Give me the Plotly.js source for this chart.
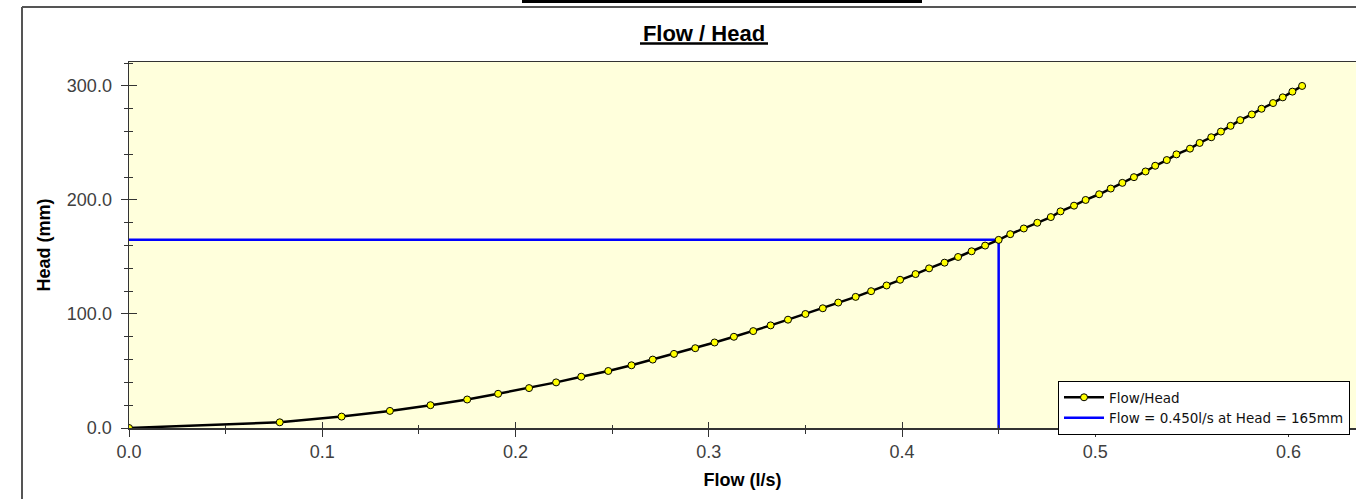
<!DOCTYPE html>
<html><head><meta charset="utf-8">
<script src="https://cdn.plot.ly/plotly-3.0.1.min.js"></script>
<style>html,body{margin:0;padding:0;background:#fff;overflow:hidden}#chart{width:1356px;height:499px}</style>
</head><body><div id="chart"></div>
<script>
// Flow / Head curve
const heads = [0, 5, 10, 15, 20, 25, 30, 35, 40, 45, 50, 55, 60, 65, 70, 75, 80, 85, 90, 95,
  100, 105, 110, 115, 120, 125, 130, 135, 140, 145, 150, 155, 160, 165, 170, 175, 180, 185, 190, 195,
  200, 205, 210, 215, 220, 225, 230, 235, 240, 245, 250, 255, 260, 265, 270, 275, 280, 285, 290, 295, 300];
const flows = [0.000, 0.078, 0.110, 0.135, 0.156, 0.175, 0.191, 0.207, 0.221, 0.234, 0.248, 0.260, 0.271, 0.282, 0.293, 0.303, 0.313, 0.323, 0.332, 0.341,
  0.350, 0.359, 0.367, 0.376, 0.384, 0.392, 0.399, 0.407, 0.414, 0.422, 0.429, 0.436, 0.443, 0.450, 0.456, 0.463, 0.470, 0.477, 0.482, 0.489,
  0.495, 0.502, 0.508, 0.514, 0.520, 0.526, 0.531, 0.537, 0.542, 0.549, 0.554, 0.560, 0.565, 0.570, 0.575, 0.581, 0.586, 0.592, 0.597, 0.602, 0.607];

// Operating point marker lines
const opFlow = [0, 0.45, 0.45];
const opHead = [165, 165, 0];

const curveName = "Flow/Head";
const opName = "Flow = 0.450l/s at Head = 165mm";

const xTickVals = [0, 0.1, 0.2, 0.3, 0.4, 0.5, 0.6];
const xTickText = ["0.0", "0.1", "0.2", "0.3", "0.4", "0.5", "0.6"];
const yTickVals = [0, 100, 200, 300];
const yTickText = ["0.0", "100.0", "200.0", "300.0"];

const chartTitle = "Flow / Head";
const xTitle = "Flow (l/s)";
const yTitle = "Head (mm)";

const xRange = [0, 0.6349];
const yRange = [0, 321];

const FONT = "'Liberation Sans', Arial, sans-serif";
const LEGFONT = "'DejaVu Sans', 'Liberation Sans', sans-serif";
const axisCol = "#333333";

const traces = [
  {x: opFlow, y: opHead, type: "scatter", mode: "lines", name: opName,
   line: {color: "#0000ff", width: 2.5}},
  {x: flows, y: heads, type: "scatter", mode: "lines+markers", name: curveName,
   line: {color: "#000000", width: 2.5},
   marker: {color: "#ffff00", size: 7, line: {color: "#000000", width: 1}}},
  // empty trace so the overlaid (inside-tick) axes are drawn
  {x: [], y: [], xaxis: "x2", yaxis: "y2", type: "scatter", mode: "lines", showlegend: false, hoverinfo: "skip"}
];

function px2x(p){ return (p - 129) / 1227; }
function px2y(p){ return (428 - p) / 366; }

const layout = {
  width: 1356, height: 499,
  margin: {l: 129, r: 0, t: 62, b: 71, pad: 0},
  paper_bgcolor: "#ffffff",
  plot_bgcolor: "#ffffdc",
  font: {family: FONT, color: "#000"},
  showlegend: true,
  title: {text: chartTitle, font: {family: FONT, size: 22, weight: "bold", color: "#000"},
          x: 704/1356, xanchor: "center", y: 1 - 33/499, yanchor: "middle", xref: "container", yref: "container"},
  xaxis: {range: xRange, tickvals: xTickVals, ticktext: xTickText,
          showgrid: false, zeroline: false, showline: true, linecolor: axisCol, linewidth: 1.5, mirror: true,
          ticks: "outside", ticklen: 7, tickwidth: 1, tickcolor: axisCol,
          minor: {ticks: "outside", dtick: 0.05, ticklen: 4, tickwidth: 1, tickcolor: axisCol, showgrid: false},
          tickfont: {family: FONT, size: 18, color: "#404040"},
          title: {text: xTitle, font: {family: FONT, size: 18, weight: "bold", color: "#000"}, standoff: 12},
          fixedrange: true},
  yaxis: {range: yRange, tickvals: yTickVals, ticktext: yTickText,
          showgrid: false, zeroline: false, showline: true, linecolor: axisCol, linewidth: 1.5,
          ticks: "outside", ticklen: 7, tickwidth: 1, tickcolor: axisCol, ticklabelstandoff: 5,
          minor: {ticks: "outside", dtick: 20, ticklen: 4, tickwidth: 1, tickcolor: axisCol, showgrid: false},
          tickfont: {family: FONT, size: 18, color: "#404040"},
          title: {text: yTitle, font: {family: FONT, size: 18, weight: "bold", color: "#000"}, standoff: 11},
          fixedrange: true},
  xaxis2: {overlaying: "x", anchor: "y", side: "bottom", range: xRange, tickvals: xTickVals,
           showticklabels: false, showgrid: false, zeroline: false, showline: false,
           ticks: "inside", ticklen: 6, tickwidth: 1, tickcolor: axisCol,
           minor: {ticks: "inside", dtick: 0.05, ticklen: 3, tickwidth: 1, tickcolor: axisCol, showgrid: false},
           fixedrange: true},
  yaxis2: {overlaying: "y", anchor: "x", side: "left", range: yRange, tickvals: yTickVals,
           showticklabels: false, showgrid: false, zeroline: false, showline: false,
           ticks: "inside", ticklen: 8, tickwidth: 1, tickcolor: axisCol,
           minor: {ticks: "inside", dtick: 20, ticklen: 4, tickwidth: 1, tickcolor: axisCol, showgrid: false},
           fixedrange: true},
  legend: {x: px2x(1058), xanchor: "left", y: px2y(381), yanchor: "top",
           bgcolor: "#ffffff", bordercolor: "#000000", borderwidth: 1,
           traceorder: "reversed", itemwidth: 40,
           font: {family: LEGFONT, size: 13.5, color: "#111"}, tracegroupgap: 0},
  shapes: [
    {type: "rect", xref: "paper", yref: "paper", x0: px2x(522), x1: px2x(922), y0: px2y(3), y1: px2y(-2),
     fillcolor: "#000", line: {width: 0}},
    {type: "line", xref: "paper", yref: "paper", x0: px2x(22), x1: px2x(1360), y0: px2y(7), y1: px2y(7),
     line: {color: "#555", width: 2}},
    {type: "line", xref: "paper", yref: "paper", x0: px2x(22), x1: px2x(22), y0: px2y(7), y1: px2y(505),
     line: {color: "#555", width: 2}},
    {type: "line", xref: "paper", yref: "paper", x0: px2x(640), x1: px2x(768), y0: px2y(43.5), y1: px2y(43.5),
     line: {color: "#000", width: 2.5}}
  ]
};

Plotly.newPlot("chart", traces, layout, {displayModeBar: false, staticPlot: true});
</script>
</body></html>
